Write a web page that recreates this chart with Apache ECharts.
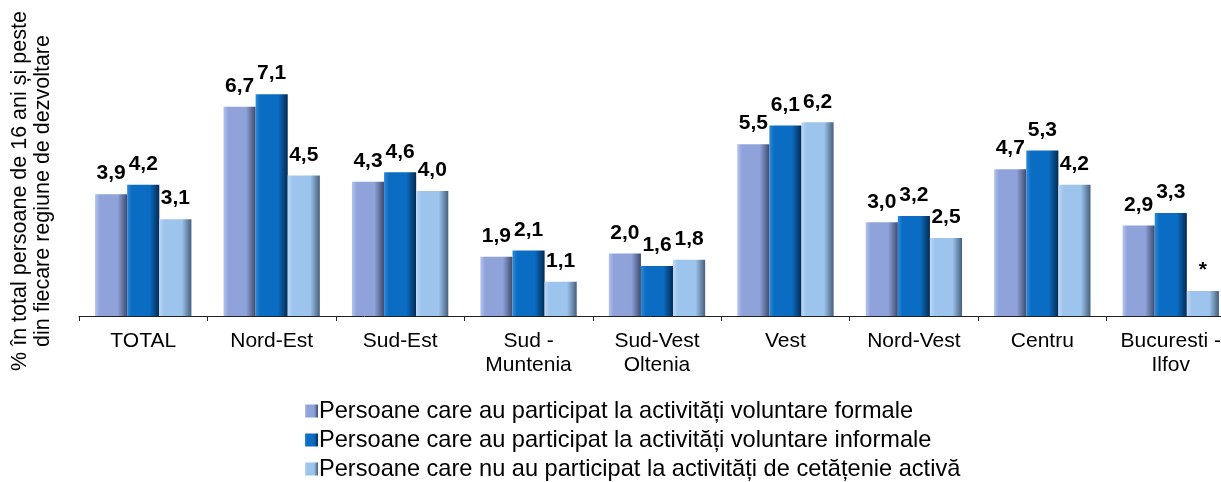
<!DOCTYPE html>
<html>
<head>
<meta charset="utf-8">
<script src="https://cdn.jsdelivr.net/npm/echarts@6/dist/echarts.min.js"></script>
<style>
  html, body { margin: 0; padding: 0; background: #fff; }
  #chart { width: 1221px; height: 482px; }
</style>
</head>
<body>
<div id="chart"></div>
<script>
// categorii (regiuni de dezvoltare)
var categories = ["TOTAL", "Nord-Est", "Sud-Est", "Sud -\nMuntenia", "Sud-Vest\nOltenia", "Vest", "Nord-Vest", "Centru", "Bucuresti -\nIlfov"];

// valori
var formale = [3.9, 6.7, 4.3, 1.9, 2.0, 5.5, 3.0, 4.7, 2.9];
var informale = [4.2, 7.1, 4.6, 2.1, 1.6, 6.1, 3.2, 5.3, 3.3];
var inactivi = [3.1, 4.5, 4.0, 1.1, 1.8, 6.2, 2.5, 4.2, 0.8];
// valori marcate cu * (date nesemnificative)
var starred = [false, false, false, false, false, false, false, false, true];

var seriesNames = [
  "Persoane care au participat la activități voluntare formale",
  "Persoane care au participat la activități voluntare informale",
  "Persoane care nu au participat la activități de cetățenie activă"
];

function bevel(left, mid, right) {
  return new echarts.graphic.LinearGradient(0, 0, 1, 0, [
    { offset: 0, color: left },
    { offset: 0.15, color: mid },
    { offset: 0.7, color: mid },
    { offset: 1, color: right }
  ]);
}

var fmt = function (v) { return v.toFixed(1).replace(".", ","); };

function makeSeries(name, values, color, flags) {
  return {
    name: name,
    type: "bar",
    barGap: "0%",
    barCategoryGap: "25%",
    itemStyle: { color: color },
    label: {
      show: true,
      position: "top",
      distance: 10,
      color: "#000",
      fontWeight: "bold",
      fontSize: 21,
      fontFamily: "Liberation Sans, Arial, sans-serif",
      formatter: function (p) {
        return flags && flags[p.dataIndex] ? "*" : fmt(p.value);
      }
    },
    data: values
  };
}

var chart = echarts.init(document.getElementById("chart"));
chart.setOption({
  animation: false,
  textStyle: { fontFamily: "Liberation Sans, Arial, sans-serif" },
  grid: { left: 79, top: 66, width: 1156, height: 250, containLabel: false, outerBoundsMode: "none" },
  legend: {
    orient: "vertical",
    left: 300,
    top: 394,
    height: 120,
    itemGap: 5,
    itemWidth: 13,
    itemHeight: 13,
    icon: "rect",
    textStyle: { fontSize: 23.6, color: "#000", padding: [0, 0, 0, -4] },
    data: seriesNames
  },
  xAxis: {
    type: "category",
    data: categories,
    axisLine: { lineStyle: { color: "#222", width: 1 } },
    axisTick: { show: true, length: 5, lineStyle: { color: "#222" } },
    axisLabel: { fontSize: 21, color: "#000", margin: 13, lineHeight: 24, interval: 0 }
  },
  yAxis: {
    type: "value",
    min: 0,
    max: 8,
    axisLine: { show: false },
    axisTick: { show: false },
    axisLabel: { show: false },
    splitLine: { show: false },
    name: "% în total persoane de 16 ani și peste\ndin fiecare regiune de dezvoltare",
    nameLocation: "middle",
    nameGap: 24,
    nameRotate: 90,
    nameTextStyle: { fontSize: 21.5, color: "#000", lineHeight: 23, align: "center" }
  },
  series: [
    makeSeries(seriesNames[0], formale, bevel("#b4c3ee", "#8fa3da", "#3e4a6c")),
    makeSeries(seriesNames[1], informale, bevel("#2f8ad8", "#0a6cc2", "#052a52")),
    makeSeries(seriesNames[2], inactivi, bevel("#bcd8f6", "#9dc4ec", "#465f7c"), starred)
  ]
});
</script>
</body>
</html>
